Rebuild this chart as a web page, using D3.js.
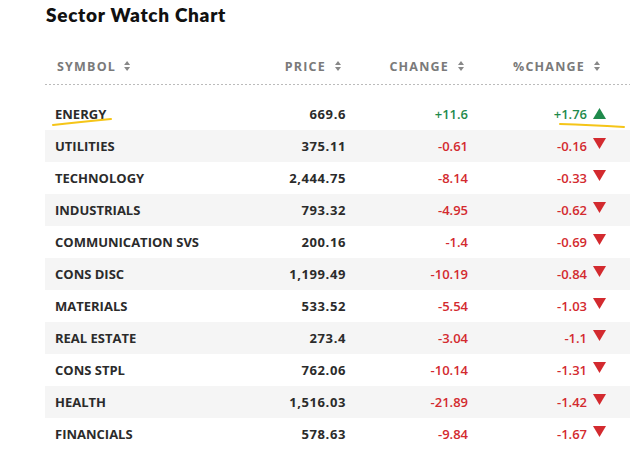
<!DOCTYPE html>
<html><head><meta charset="utf-8">
<script src="https://cdn.jsdelivr.net/npm/d3@7"></script>
<style>
html,body{margin:0;padding:0;background:#fff;}
svg{display:block;font-family:"Open Sans",Lato,sans-serif;}
</style></head>
<body>
<svg id="c" width="630" height="454"></svg>
<script>
const title = "Sector Watch Chart";
const headers = ["SYMBOL","PRICE","CHANGE","%CHANGE"];
const symbols = ["ENERGY","UTILITIES","TECHNOLOGY","INDUSTRIALS","COMMUNICATION SVS","CONS DISC","MATERIALS","REAL ESTATE","CONS STPL","HEALTH","FINANCIALS"];
const prices = ["669.6","375.11","2,444.75","793.32","200.16","1,199.49","533.52","273.4","762.06","1,516.03","578.63"];
const changes = [11.6,-0.61,-8.14,-4.95,-1.4,-10.19,-5.54,-3.04,-10.14,-21.89,-9.84];
const pctChanges = [1.76,-0.16,-0.33,-0.62,-0.69,-0.84,-1.03,-1.1,-1.31,-1.42,-1.67];
const highlighted = ["ENERGY"];

const svg = d3.select("#c");
const green = "#1f8a4c", red = "#d32a2f", dark = "#2b2b2b", gray = "#7a7a7a";
const fmt = v => (v > 0 ? "+" : "") + v;

svg.append("text").attr("x", 46).attr("y", 22).attr("font-size", 19).attr("font-weight", 800)
  .attr("font-family", "Lato, sans-serif").attr("letter-spacing", 0.7)
  .attr("fill", "#111").text(title);

// header
const colX = [57, 326, 449, 585];
const hdr = svg.append("g");
headers.forEach((h, i) => {
  const t = hdr.append("text").attr("x", colX[i]).attr("y", 71)
    .attr("text-anchor", i === 0 ? "start" : "end")
    .attr("font-size", 12.5).attr("font-weight", 700).attr("letter-spacing", 1.2)
    .attr("fill", gray).text(h);
  const w = t.node().getComputedTextLength();
  const ix = i === 0 ? colX[i] + w + 11 : colX[i] + 12;
  hdr.append("path").attr("d", `M${ix-3},65 L${ix+3},65 L${ix},61 Z M${ix-3},67 L${ix+3},67 L${ix},71 Z`).attr("fill", "#888");
});
svg.append("line").attr("x1", 45).attr("x2", 630).attr("y1", 84.5).attr("y2", 84.5)
  .attr("stroke", "#bbb").attr("stroke-dasharray", "2,2");

const y = d3.scaleBand().domain(symbols).range([98, 98 + 32 * symbols.length]);
const rows = svg.append("g").selectAll("g").data(symbols).join("g")
  .attr("transform", d => `translate(0,${y(d)})`);
rows.append("rect").attr("x", 45).attr("width", 585).attr("height", y.bandwidth())
  .attr("fill", (d, i) => i % 2 ? "#f5f5f5" : "#fff");
const base = y.bandwidth() / 2 + 5;
rows.append("text").attr("x", 55).attr("y", base).attr("font-size", 13).attr("font-weight", 700)
  .attr("fill", dark).text(d => d);
rows.append("text").attr("x", 346).attr("y", base).attr("text-anchor", "end").attr("font-size", 13)
  .attr("font-weight", 700).attr("letter-spacing", 0.6).attr("fill", dark).text((d, i) => prices[i]);
rows.append("text").attr("x", 468).attr("y", base).attr("text-anchor", "end").attr("font-size", 13)
  .attr("font-weight", 600).attr("fill", (d, i) => changes[i] >= 0 ? green : red).text((d, i) => fmt(changes[i]));
rows.append("text").attr("x", 587).attr("y", base).attr("text-anchor", "end").attr("font-size", 13)
  .attr("font-weight", 600).attr("fill", (d, i) => pctChanges[i] >= 0 ? green : red).text((d, i) => fmt(pctChanges[i]));
rows.append("path").attr("d", (d, i) => pctChanges[i] >= 0
    ? "M593,21 L606,21 L599.5,10 Z" : "M593,8 L606,8 L599.5,19 Z")
  .attr("fill", (d, i) => pctChanges[i] >= 0 ? green : red);

// yellow hand-drawn highlights
highlighted.forEach(s => {
  const yy = y(s);
  svg.append("path").attr("d", `M53,${yy+27} Q80,${yy+24} 111,${yy+21}`)
    .attr("fill", "none").attr("stroke", "#f5c518").attr("stroke-width", 2).attr("stroke-linecap", "round");
  svg.append("path").attr("d", `M560,${yy+26} Q590,${yy+27} 624,${yy+29}`)
    .attr("fill", "none").attr("stroke", "#f5c518").attr("stroke-width", 2).attr("stroke-linecap", "round");
});
</script>
</body></html>
